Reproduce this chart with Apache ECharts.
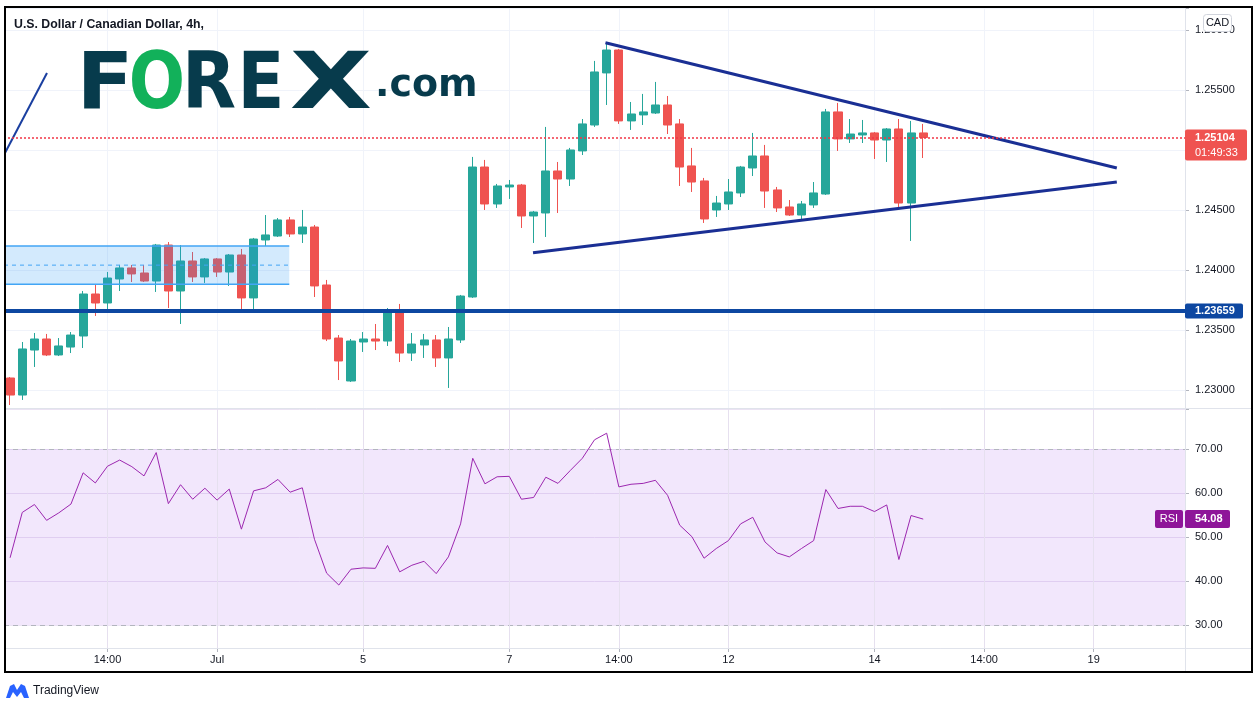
<!DOCTYPE html>
<html><head><meta charset="utf-8">
<script src="https://cdn.jsdelivr.net/npm/echarts@6/dist/echarts.min.js"></script>
<style>html,body{margin:0;padding:0;background:#fff}#c{width:1259px;height:710px}</style>
</head><body><div id="c"></div>
<script>
// ---------- DATA ----------
const opens = [1.23100,1.22958,1.23333,1.23425,1.23292,1.23358,1.23450,1.23800,1.23725,1.23925,
1.24017,1.23975,1.23908,1.24208,1.23825,1.24075,1.23942,1.24092,1.23983,1.24125,
1.23767,1.24250,1.24283,1.24417,1.24300,1.24358,1.23875,1.23433,1.23075,1.23400,
1.23425,1.23408,1.23658,1.23308,1.23375,1.23417,1.23267,1.23417,1.23775,1.24858,
1.24550,1.24692,1.24708,1.24450,1.24475,1.24825,1.24758,1.24992,1.25208,1.25642,
1.25833,1.25242,1.25292,1.25308,1.25375,1.25217,1.24867,1.24742,1.24500,1.24550,
1.24642,1.24850,1.24950,1.24667,1.24525,1.24458,1.24542,1.24633,1.25317,1.25092,
1.25125,1.25142,1.25083,1.25175,1.24558,1.25142];
const closes = [1.22958,1.23342,1.23425,1.23292,1.23367,1.23458,1.23800,1.23725,1.23933,1.24017,
1.23967,1.23908,1.24208,1.23825,1.24075,1.23942,1.24092,1.23983,1.24125,1.23767,
1.24258,1.24292,1.24417,1.24300,1.24358,1.23867,1.23425,1.23242,1.23408,1.23425,
1.23408,1.23658,1.23308,1.23383,1.23417,1.23267,1.23425,1.23783,1.24858,1.24550,
1.24700,1.24708,1.24450,1.24483,1.24825,1.24758,1.25000,1.25217,1.25650,1.25833,
1.25242,1.25300,1.25317,1.25375,1.25208,1.24858,1.24733,1.24425,1.24558,1.24650,
1.24858,1.24950,1.24658,1.24517,1.24458,1.24550,1.24642,1.25317,1.25092,1.25133,
1.25142,1.25083,1.25175,1.24558,1.25142,1.25104];
const highs = [1.23108,1.23400,1.23475,1.23467,1.23433,1.23483,1.23825,1.23875,1.23983,1.24042,
1.24042,1.24042,1.24217,1.24233,1.24208,1.24150,1.24100,1.24100,1.24133,1.24175,
1.24267,1.24458,1.24433,1.24442,1.24500,1.24375,1.23917,1.23458,1.23425,1.23483,
1.23550,1.23683,1.23717,1.23475,1.23467,1.23458,1.23525,1.23792,1.24942,1.24917,
1.24717,1.24750,1.24717,1.24492,1.25192,1.24900,1.25017,1.25258,1.25742,1.25883,
1.25842,1.25400,1.25467,1.25567,1.25450,1.25258,1.25017,1.24767,1.24617,1.24758,
1.24867,1.25142,1.25042,1.24692,1.24583,1.24575,1.24733,1.25342,1.25392,1.25258,
1.25250,1.25150,1.25183,1.25258,1.25242,1.25217];
const lows = [1.22875,1.22917,1.23192,1.23283,1.23283,1.23308,1.23350,1.23617,1.23675,1.23825,
1.23900,1.23900,1.23817,1.23683,1.23550,1.23900,1.23892,1.23942,1.23867,1.23675,
1.23675,1.24200,1.24275,1.24275,1.24225,1.23775,1.23408,1.23083,1.23067,1.23317,
1.23333,1.23367,1.23233,1.23242,1.23267,1.23192,1.23017,1.23392,1.23767,1.24500,
1.24517,1.24592,1.24350,1.24225,1.24275,1.24475,1.24700,1.24958,1.25192,1.25375,
1.25217,1.25167,1.25208,1.25300,1.25133,1.24700,1.24650,1.24392,1.24442,1.24500,
1.24608,1.24783,1.24517,1.24483,1.24450,1.24417,1.24517,1.24625,1.24992,1.25058,
1.25058,1.24925,1.24900,1.24517,1.24242,1.24933];
const rsiValues = [45.3,55.6,57.4,53.8,55.5,57.5,64.6,62.3,66.1,67.5,
66.0,63.9,69.2,57.6,61.9,58.6,61.1,58.4,60.9,51.8,
60.5,61.2,63.1,60.2,61.2,49.5,41.8,39.1,42.7,43.0,
42.9,48.1,42.1,43.6,44.5,41.7,45.5,53.0,67.9,62.1,
63.7,63.8,58.6,59.0,63.6,62.2,65.1,67.9,72.1,73.6,
61.4,62.0,62.2,62.9,59.5,52.7,50.1,45.2,47.4,49.2,
53.0,54.5,48.9,46.4,45.5,47.4,49.2,60.8,56.5,57.0,
57.0,55.8,57.3,44.9,54.9,54.08];
const tickIdx  = [8, 17, 29, 41, 50, 59, 71, 80, 89];
const tickText = ['14:00','Jul','5','7','14:00','12','14','14:00','19'];
const slotCount = 97;               // 4h slots shown on the time axis (incl. empty right margin)
const lastPrice = 1.25104;
const countdown = '01:49:33';
const supportLevel = 1.23659;
const rsiLast = 54.08;
const rsiBandHigh = 70, rsiBandLow = 30;
const upperTrend = [[48.9, 1.25894], [90.9, 1.24850]];
const lowerTrend = [[42.95, 1.24144], [90.9, 1.24733]];
const leftTrend  = [[-0.42, 1.24975], [3.03, 1.25642]];
const boxTop = 1.24200, boxBottom = 1.23881, boxStart = -0.5, boxEnd = 22.93;
const priceMin = 1.2285, priceMax = 1.26183;
const rsiMin = 24.8, rsiMax = 79.1;

// ---------- CHART ----------
const FONT = '"Liberation Sans", Arial, sans-serif';
const LOGO = '"DejaVu Sans", "Liberation Sans", sans-serif';
const categories = Array.from({length: slotCount}, (_, i) => 'slot' + i);
const candles = opens.map((o, i) => [o, closes[i], lows[i], highs[i]]);
const isTick = (i) => tickIdx.indexOf(i) >= 0;
const gridColor = '#f0f3fa';

const chart = echarts.init(document.getElementById('c'), null, {renderer: 'canvas', width: 1259, height: 710});

const vGrid = tickIdx.map(i => ({xAxis: i}));

const option = {
  animation: false,
  backgroundColor: '#ffffff',
  grid: [
    {left: 4, width: 1181, top: 8, height: 400},
    {left: 4, width: 1181, top: 409, height: 239}
  ],
  xAxis: [
    {type: 'category', gridIndex: 0, data: categories, boundaryGap: true,
     axisLine: {show: false}, axisTick: {show: false}, axisLabel: {show: false}, splitLine: {show: false}},
    {type: 'category', gridIndex: 1, data: categories, boundaryGap: true,
     axisLine: {show: false, onZero: false},
     axisTick: {show: true, alignWithLabel: true, length: 4, interval: (i) => isTick(i), lineStyle: {color: '#b2b5be'}},
     axisLabel: {interval: (i) => isTick(i), formatter: (v, i) => tickText[tickIdx.indexOf(i)] || '',
                 color: '#131722', fontSize: 11, fontFamily: FONT, margin: 6},
     splitLine: {show: false}},
    {type: 'value', gridIndex: 0, min: -0.5, max: slotCount - 0.5, show: false, axisLine: {onZero: false}},
    {type: 'value', gridIndex: 1, min: -0.5, max: slotCount - 0.5, show: false, axisLine: {onZero: false}}
  ],
  yAxis: [
    {type: 'value', gridIndex: 0, position: 'right', min: priceMin, max: priceMax, splitNumber: 7,
     axisLine: {show: false, onZero: false},
     axisTick: {show: true, length: 4, lineStyle: {color: '#b2b5be'}},
     axisLabel: {color: '#131722', fontSize: 11, fontFamily: FONT, margin: 10,
       formatter: (v) => Math.abs(v * 200 - Math.round(v * 200)) < 1e-6 ? v.toFixed(5) : ''},
     splitLine: {lineStyle: {color: gridColor}}},
    {type: 'value', gridIndex: 1, position: 'right', min: rsiMin, max: rsiMax, splitNumber: 5,
     axisLine: {show: false, onZero: false},
     axisTick: {show: true, length: 4, lineStyle: {color: '#b2b5be'}},
     axisLabel: {color: '#131722', fontSize: 11, fontFamily: FONT, margin: 10,
       formatter: (v) => Math.abs(v / 10 - Math.round(v / 10)) < 1e-6 ? v.toFixed(2) : ''},
     splitLine: {lineStyle: {color: '#ebe3f3'}}}
  ],
  series: [
    {
      name: 'USDCAD', type: 'candlestick', xAxisIndex: 0, yAxisIndex: 0, data: candles,
      barWidth: '70%', z: 2,
      itemStyle: {color: '#26a69a', color0: '#ef5350', borderColor: '#26a69a', borderColor0: '#ef5350', borderWidth: 1},
      markLine: {
        silent: true, symbol: 'none', z: 6, precision: 10, label: {show: false},
        data: [
          {yAxis: supportLevel, lineStyle: {color: '#0d47a1', width: 4, type: 'solid', opacity: 1}},
          {yAxis: lastPrice, lineStyle: {color: '#f23645', width: 1.5, type: [2, 2], opacity: 1}}
        ]
      }
    },
    {
      name: 'zoneTop', type: 'line', xAxisIndex: 2, yAxisIndex: 0, z: 3, symbol: 'none', silent: true,
      data: [[boxStart, boxTop], [boxEnd, boxTop]],
      lineStyle: {color: '#42a5f5', width: 1.5},
      markArea: {silent: true, z: 3, itemStyle: {color: 'rgba(33,150,243,0.2)'},
                 data: [[{coord: [boxStart, boxTop]}, {coord: [boxEnd, boxBottom]}]]},
      markLine: {silent: true, symbol: 'none', z: 1, precision: 10, label: {show: false},
                 lineStyle: {color: gridColor, width: 1, type: 'solid'}, data: vGrid}
    },
    {
      name: 'zoneBottom', type: 'line', xAxisIndex: 2, yAxisIndex: 0, z: 3, symbol: 'none', silent: true,
      data: [[boxStart, boxBottom], [boxEnd, boxBottom]],
      lineStyle: {color: '#42a5f5', width: 1.5}
    },
    {
      name: 'zoneMid', type: 'line', xAxisIndex: 2, yAxisIndex: 0, z: 3, symbol: 'none', silent: true,
      data: [[boxStart, (boxTop + boxBottom) / 2], [boxEnd, (boxTop + boxBottom) / 2]],
      lineStyle: {color: '#42a5f5', width: 1, type: [4, 4]}
    },
    {name: 'upperTrend', type: 'line', xAxisIndex: 2, yAxisIndex: 0, z: 4, symbol: 'none', silent: true,
     data: upperTrend, lineStyle: {color: '#1a2f94', width: 3}},
    {name: 'lowerTrend', type: 'line', xAxisIndex: 2, yAxisIndex: 0, z: 4, symbol: 'none', silent: true,
     data: lowerTrend, lineStyle: {color: '#1a2f94', width: 3}},
    {name: 'leftTrend', type: 'line', xAxisIndex: 2, yAxisIndex: 0, z: 4, symbol: 'none', silent: true,
     data: leftTrend, lineStyle: {color: '#1a3fa0', width: 2}},
    {
      name: 'RSI', type: 'line', xAxisIndex: 3, yAxisIndex: 1, z: 4, symbol: 'none', silent: true,
      data: rsiValues.map((v, i) => [i, v]),
      lineStyle: {color: '#9c27b0', width: 1},
      markArea: {silent: true, z: 1, itemStyle: {color: 'rgba(140,40,230,0.11)'},
                 data: [[{yAxis: rsiBandHigh}, {yAxis: rsiBandLow}]]},
      markLine: {silent: true, symbol: 'none', z: 2, precision: 10, label: {show: false},
        data: [
          {yAxis: rsiBandHigh, lineStyle: {color: '#b2b5be', width: 1, type: [5, 4]}},
          {yAxis: rsiBandLow, lineStyle: {color: '#b2b5be', width: 1, type: [5, 4]}}
        ].concat(tickIdx.map(i => ({xAxis: i, lineStyle: {color: '#e6e0ef', width: 1, type: 'solid'}})))
      }
    }
  ]
};
chart.setOption(option);

// ---------- OVERLAY (labels placed through the axis scales) ----------
const yLast = chart.convertToPixel({yAxisIndex: 0}, lastPrice);
const ySup  = chart.convertToPixel({yAxisIndex: 0}, supportLevel);
const yRsi  = chart.convertToPixel({yAxisIndex: 1}, rsiLast);

function txt(text, x, y, opts) {
  return {type: 'text', x: x, y: y, z: 100, silent: true,
    style: Object.assign({text: text, fill: '#131722', font: '12px ' + FONT,
      align: 'left', verticalAlign: 'middle', textAlign: 'left', textVerticalAlign: 'middle'}, opts || {})};
}
function letter(ch, cx, color, sx) {
  return {type: 'text', x: cx, y: 87.5, scaleX: sx, z: 50, silent: true,
    style: {text: ch, fill: color, font: 'bold 78px ' + LOGO,
      align: 'center', verticalAlign: 'middle', textAlign: 'center', textVerticalAlign: 'middle'}};
}
const dark = '#073b4c', green = '#12b15a';
const graphics = [
  {type: 'rect', z: 90, silent: true, shape: {x: 5, y: 7, width: 1247, height: 665},
   style: {fill: 'none', stroke: '#000', lineWidth: 2}},
  {type: 'line', z: 20, silent: true, shape: {x1: 5, y1: 408.5, x2: 1252, y2: 408.5}, style: {stroke: '#e0e3eb', lineWidth: 1}},
  {type: 'line', z: 20, silent: true, shape: {x1: 5, y1: 648.5, x2: 1252, y2: 648.5}, style: {stroke: '#e0e3eb', lineWidth: 1}},
  {type: 'line', z: 20, silent: true, shape: {x1: 1185.5, y1: 7, x2: 1185.5, y2: 672}, style: {stroke: '#e0e3eb', lineWidth: 1}},
  txt('U.S. Dollar / Canadian Dollar, 4h,', 14, 25, {font: '600 12.3px ' + FONT}),
  letter('F', 105, dark, 1.07),
  letter('O', 157, green, 0.85),
  letter('R', 209, dark, 0.9),
  letter('E', 261, dark, 0.88),
  letter('X', 331, dark, 1.37),
  {type: 'text', x: 375, y: 86, z: 50, silent: true,
   style: {text: '.com', fill: dark, font: 'bold 38px ' + LOGO, align: 'left', verticalAlign: 'middle', textAlign: 'left', textVerticalAlign: 'middle'}},
  {type: 'rect', z: 100, silent: true, shape: {x: 1203.5, y: 14.5, width: 28, height: 17, r: 3},
   style: {fill: '#fff', stroke: '#d1d4dc', lineWidth: 1}},
  txt('CAD', 1217.5, 23, {font: '11px ' + FONT, align: 'center', textAlign: 'center'}),
  {type: 'rect', z: 100, silent: true, shape: {x: 1185, y: yLast - 8, width: 62, height: 31, r: 2}, style: {fill: '#ef5350'}},
  txt(lastPrice.toFixed(5), 1195, yLast, {fill: '#fff', font: 'bold 11px ' + FONT}),
  txt(countdown, 1195, yLast + 15, {fill: '#fff', font: '11px ' + FONT}),
  {type: 'rect', z: 100, silent: true, shape: {x: 1185, y: ySup - 7.5, width: 58, height: 15, r: 2}, style: {fill: '#0d47a1'}},
  txt(supportLevel.toFixed(5), 1195, ySup, {fill: '#fff', font: 'bold 11px ' + FONT}),
  {type: 'rect', z: 100, silent: true, shape: {x: 1155, y: yRsi - 9, width: 28, height: 18, r: 2}, style: {fill: '#8e1599'}},
  txt('RSI', 1169, yRsi, {fill: '#fff', font: '11px ' + FONT, align: 'center', textAlign: 'center'}),
  {type: 'rect', z: 100, silent: true, shape: {x: 1185, y: yRsi - 9, width: 45, height: 18, r: 2}, style: {fill: '#8e1599'}},
  txt(rsiLast.toFixed(2), 1195, yRsi, {fill: '#fff', font: 'bold 11px ' + FONT}),
  {type: 'polygon', z: 100, silent: true,
   shape: {points: [[6, 698], [10, 686], [14, 684], [17, 690], [21, 684], [25, 686], [29, 698], [24, 698], [21, 692], [17, 697], [13, 692], [10, 698]]},
   style: {fill: '#2962ff'}},
  txt('TradingView', 33, 691, {font: '12px ' + FONT})
];
chart.setOption({graphic: graphics});
</script>
</body></html>
